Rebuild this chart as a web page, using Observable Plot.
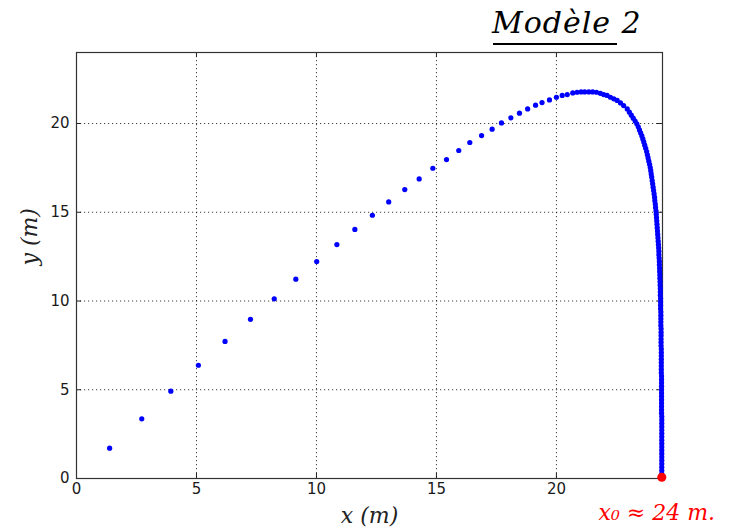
<!DOCTYPE html>
<html>
<head>
<meta charset="utf-8">
<script src="https://cdn.jsdelivr.net/npm/d3@7"></script>
<script src="https://cdn.jsdelivr.net/npm/@observablehq/plot@0.6"></script>
<style>
  html, body { margin: 0; padding: 0; background: #fff; }
  #wrap { position: relative; width: 733px; height: 532px; overflow: hidden; }
  #title { position: absolute; left: 492px; top: 5px; font-family: "DejaVu Serif", serif; font-style: italic; font-size: 30px; color: #000; letter-spacing: 1px; white-space: nowrap; }
  #underline { position: absolute; left: 493px; top: 43px; width: 124px; height: 0; border-top: 2px solid #000; }
  #chart { position: absolute; left: 0; top: 0; }
</style>
</head>
<body>
<div id="wrap">
  <div id="chart"></div>
  <div id="title">Modèle 2</div>
  <div id="underline"></div>
</div>
<script>
// Trajectory samples (metres)
const xValues = [
  1.38, 2.72, 3.93, 5.08, 6.19, 7.25, 8.24, 9.14, 10.01, 10.85, 11.60, 12.33,
  13.01, 13.68, 14.28, 14.85, 15.42, 15.93, 16.39, 16.88, 17.32, 17.71, 18.10,
  18.46, 18.80, 19.13, 19.40, 19.71, 20.00,
  20.24, 20.45, 20.68, 20.86, 21.03, 21.18, 21.35, 21.51, 21.67, 21.83, 21.97,
  22.11, 22.25, 22.39, 22.53, 22.67, 22.80, 22.95, 23.04,
  23.12, 23.20, 23.28, 23.35, 23.41, 23.46, 23.51, 23.56, 23.60, 23.64, 23.68,
  23.72, 23.76, 23.79, 23.82, 23.85, 23.88, 23.91, 23.93, 23.95, 23.97, 23.99,
  24.01, 24.03, 24.05, 24.07, 24.09, 24.10, 24.12, 24.13, 24.15, 24.16, 24.17,
  24.18, 24.19, 24.20, 24.21, 24.22, 24.23, 24.24, 24.25, 24.26, 24.27, 24.27,
  24.28, 24.29, 24.29, 24.30, 24.30, 24.31, 24.31, 24.32, 24.32, 24.33, 24.33,
  24.33, 24.34, 24.34, 24.34, 24.34, 24.35, 24.35, 24.35, 24.35, 24.35, 24.36,
  24.36, 24.36, 24.36, 24.36, 24.36, 24.37, 24.37, 24.37, 24.37, 24.37, 24.37,
  24.37, 24.37, 24.38, 24.38, 24.38, 24.38, 24.38, 24.38, 24.38, 24.38, 24.38,
  24.38, 24.38, 24.38, 24.39, 24.39, 24.39, 24.39, 24.39, 24.39, 24.39, 24.39,
  24.39, 24.39, 24.39, 24.39, 24.39, 24.39, 24.39, 24.39, 24.39, 24.39, 24.39
];
const yValues = [
  1.71, 3.36, 4.92, 6.38, 7.72, 8.97, 10.12, 11.23, 12.22, 13.18, 14.03, 14.83,
  15.58, 16.28, 16.88, 17.48, 17.97, 18.48, 18.93, 19.32, 19.68, 20.03, 20.32,
  20.58, 20.82, 21.03, 21.18, 21.33, 21.48,
  21.58, 21.63, 21.72, 21.76, 21.78, 21.78, 21.78, 21.78, 21.76, 21.70, 21.63,
  21.58, 21.48, 21.39, 21.30, 21.16, 21.01, 20.82, 20.64,
  20.47, 20.30, 20.14, 19.98, 19.81, 19.64, 19.47, 19.30, 19.13, 18.96, 18.78,
  18.60, 18.42, 18.24, 18.06, 17.88, 17.70, 17.52, 17.34, 17.16, 16.98, 16.79,
  16.60, 16.41, 16.22, 16.03, 15.84, 15.65, 15.46, 15.27, 15.08, 14.89, 14.70,
  14.51, 14.32, 14.13, 13.94, 13.75, 13.56, 13.37, 13.18, 12.99, 12.80, 12.61,
  12.42, 12.23, 12.04, 11.85, 11.66, 11.47, 11.28, 11.09, 10.90, 10.71, 10.52,
  10.33, 10.14, 9.95, 9.76, 9.57, 9.38, 9.19, 9.00, 8.81, 8.62, 8.43,
  8.24, 8.05, 7.86, 7.67, 7.48, 7.29, 7.10, 6.91, 6.72, 6.53, 6.34,
  6.15, 5.96, 5.77, 5.58, 5.39, 5.20, 5.01, 4.82, 4.63, 4.44, 4.25,
  4.06, 3.87, 3.68, 3.49, 3.30, 3.11, 2.92, 2.73, 2.54, 2.35, 2.16,
  1.97, 1.78, 1.59, 1.40, 1.21, 1.02, 0.83, 0.64, 0.45, 0.26, 0.07
];
const xTicks = [0, 5, 10, 15, 20];
const yTicks = [0, 5, 10, 15, 20];
const xLabel = "x (m)";
const yLabel = "y (m)";
const rangeNote = "x\u2080 \u2248 24 m.";

const data = xValues.map((x, i) => ({x, y: yValues[i]}));
const landing = [data[data.length - 1]];

const gridStyle = {stroke: "#000", strokeOpacity: 0.75, strokeDasharray: "1.2,2.8", strokeWidth: 1};
const tickStyle = {stroke: "#222", strokeWidth: 1};

const chart = Plot.plot({
  width: 733,
  height: 532,
  marginLeft: 76,
  marginRight: 71,
  marginTop: 52,
  marginBottom: 54,
  x: {domain: [0, 24.42]},
  y: {domain: [0, 24]},
  style: {fontFamily: "DejaVu Sans, sans-serif", fontSize: "15px", color: "#1a1a1a", background: "transparent", overflow: "visible"},
  marks: [
    Plot.gridX(xTicks, {...gridStyle}),
    Plot.gridY(yTicks, {...gridStyle}),
    Plot.axisX(xTicks, {tickSize: 0, tickPadding: 5, label: null, fontSize: 15}),
    Plot.axisY(yTicks, {tickSize: 0, tickPadding: 7, label: null, fontSize: 15}),
    Plot.tickX(xTicks, {x: d => d, insetTop: 421, ...tickStyle}),
    Plot.tickX(xTicks, {x: d => d, insetBottom: 421, ...tickStyle}),
    Plot.tickY(yTicks, {y: d => d, insetRight: 581, ...tickStyle}),
    Plot.tickY(yTicks, {y: d => d, insetLeft: 581, ...tickStyle}),
    Plot.frame({stroke: "#333", strokeWidth: 1.2}),
    Plot.dot(data, {x: "x", y: "y", r: 2.6, fill: "#0000ff", stroke: "none"}),
    Plot.dot(landing, {x: "x", y: "y", r: 4.5, fill: "#ff0000", stroke: "none"}),
    Plot.text([xLabel], {frameAnchor: "bottom", dy: 44, text: d => d, fontFamily: "DejaVu Serif, serif", fontStyle: "italic", fontSize: 22, fill: "#222"}),
    Plot.text([yLabel], {frameAnchor: "left", dx: -47, rotate: -90, text: d => d, fontFamily: "DejaVu Serif, serif", fontStyle: "italic", fontSize: 22, fill: "#222"}),
    Plot.text(landing, {x: "x", y: "y", text: () => rangeNote, dx: -5, dy: 36, fontFamily: "DejaVu Serif, serif", fontStyle: "italic", fontSize: 22, fill: "#ff0000"})
  ]
});
document.getElementById("chart").appendChild(chart);
</script>
</body>
</html>
